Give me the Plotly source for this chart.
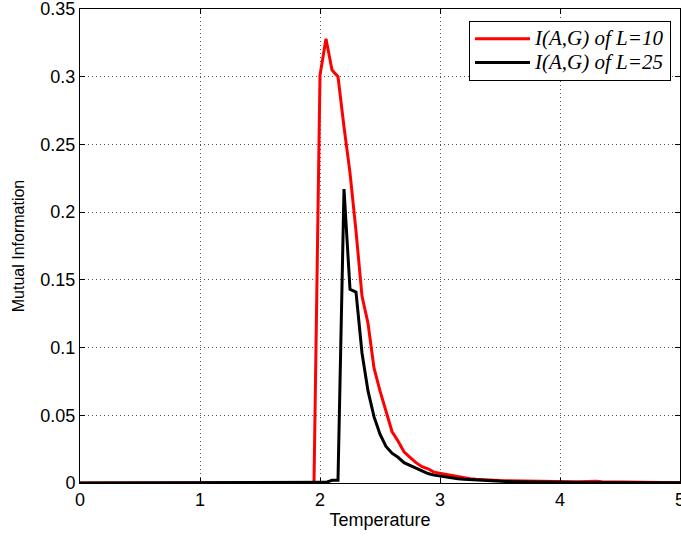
import plotly.graph_objects as go

temperature = [
    0.00, 0.05, 0.10, 0.15, 0.20, 0.25, 0.30, 0.35, 0.40, 0.45,
    0.50, 0.55, 0.60, 0.65, 0.70, 0.75, 0.80, 0.85, 0.90, 0.95,
    1.00, 1.05, 1.10, 1.15, 1.20, 1.25, 1.30, 1.35, 1.40, 1.45,
    1.50, 1.55, 1.60, 1.65, 1.70, 1.75, 1.80, 1.85, 1.90, 1.95,
    2.00, 2.05, 2.10, 2.15, 2.20, 2.25, 2.30, 2.35, 2.40, 2.45,
    2.50, 2.55, 2.60, 2.65, 2.70, 2.75, 2.80, 2.85, 2.90, 2.95,
    3.00, 3.05, 3.10, 3.15, 3.20, 3.25, 3.30, 3.35, 3.40, 3.45,
    3.50, 3.55, 3.60, 3.65, 3.70, 3.75, 3.80, 3.85, 3.90, 3.95,
    4.00, 4.05, 4.10, 4.15, 4.20, 4.25, 4.30, 4.35, 4.40, 4.45,
    4.50, 4.55, 4.60, 4.65, 4.70, 4.75, 4.80, 4.85, 4.90, 4.95,
    5.00,
]

mi_L10 = [
    0, 0, 0, 0, 0, 0, 0, 0, 0, 0,
    0, 0, 0, 0, 0, 0, 0, 0, 0, 0,
    0, 0, 0, 0, 0, 0, 0, 0, 0, 0,
    0, 0, 0, 0, 0, 0, 0, 0, 0, 0,
    0.301, 0.328, 0.305, 0.300, 0.263, 0.229, 0.186, 0.138, 0.118, 0.085,
    0.068, 0.052, 0.038, 0.031, 0.023, 0.019, 0.015, 0.012, 0.0105, 0.008,
    0.0072, 0.0062, 0.0055, 0.0045, 0.0038, 0.0032, 0.0028, 0.0024, 0.0022, 0.0020,
    0.0018, 0.0017, 0.0016, 0.0014, 0.0013, 0.0012, 0.0011, 0.0010, 0.0010, 0.0009,
    0.0009, 0.0008, 0.0009, 0.0010, 0.0012, 0.0011, 0.0013, 0.0010, 0.0009, 0.0006,
    0.0005, 0.0005, 0.0004, 0.0004, 0.0004, 0.0003, 0.0003, 0.0003, 0.0003, 0.0002,
    0.0002,
]

mi_L25 = [
    0, 0, 0, 0, 0, 0, 0, 0, 0, 0,
    0, 0, 0, 0, 0, 0, 0, 0, 0, 0,
    0, 0, 0, 0, 0, 0, 0, 0, 0, 0,
    0, 0, 0, 0, 0, 0, 0, 0, 0, 0,
    0, 0.0005, 0.002, 0.002, 0.217, 0.143, 0.141, 0.096, 0.068, 0.049,
    0.036, 0.027, 0.022, 0.019, 0.015, 0.013, 0.011, 0.0085, 0.007, 0.0058,
    0.0050, 0.0043, 0.0037, 0.0031, 0.0027, 0.0024, 0.0022, 0.0020, 0.0018, 0.0015,
    0.0013, 0.0011, 0.0010, 0.0009, 0.0008, 0.0007, 0.0006, 0.0006, 0.0005, 0.0005,
    0.0004, 0.0004, 0.0003, 0.0003, 0.0003, 0.0003, 0.0002, 0.0002, 0.0002, 0.0002,
    0.0002, 0.0001, 0.0001, 0.0001, 0.0001, 0.0001, 0.0001, 0.0001, 0.0001, 0.0001,
    0.0001,
]

legend_names = ["I(A,G) of L=10", "I(A,G) of L=25"]
x_ticks = [0, 1, 2, 3, 4, 5]
y_ticks = [0, 0.05, 0.1, 0.15, 0.2, 0.25, 0.3, 0.35]
y_tick_text = ["0", "0.05", "0.1", "0.15", "0.2", "0.25", "0.3", "0.35"]


def legend_label(s):
    return '<span style="font-size:21px"><i>' + s + "</i></span>"


fig = go.Figure()
fig.add_trace(go.Scatter(x=temperature, y=mi_L10, mode="lines",
                         line=dict(color="#ff0000", width=3),
                         name=legend_label(legend_names[0])))
fig.add_trace(go.Scatter(x=temperature, y=mi_L25, mode="lines",
                         line=dict(color="#000000", width=3),
                         name=legend_label(legend_names[1])))

axis_common = dict(
    showline=True, linecolor="black", linewidth=1, mirror="ticks",
    ticks="inside", ticklen=5, tickcolor="black",
    showgrid=True, gridcolor="#555555", griddash="1px,3px", gridwidth=1,
    zeroline=False, automargin=False,
    ticklabeloverflow="allow",
    tickfont=dict(family="Liberation Sans, Arial", size=18, color="black"),
)

fig.update_layout(
    width=681, height=538,
    margin=dict(l=80, r=1, t=9, b=55),
    paper_bgcolor="white", plot_bgcolor="white",
    xaxis=dict(range=[0, 5], tickvals=x_ticks,
               title=dict(text="Temperature", standoff=4,
                          font=dict(family="Liberation Sans, Arial", size=18, color="black")),
               **axis_common),
    yaxis=dict(range=[0, 0.35], tickvals=y_ticks, ticktext=y_tick_text,
               title=dict(text="Mutual Information", standoff=11,
                          font=dict(family="Liberation Sans, Arial", size=16, color="black")),
               **axis_common),
    legend=dict(x=0.985, y=0.975, xanchor="right", yanchor="top",
                bgcolor="white", bordercolor="black", borderwidth=1,
                font=dict(family="Liberation Serif, Times New Roman", size=16, color="black"),
                itemwidth=55, tracegroupgap=0),
    showlegend=True,
)

fig.write_html("out.html")
